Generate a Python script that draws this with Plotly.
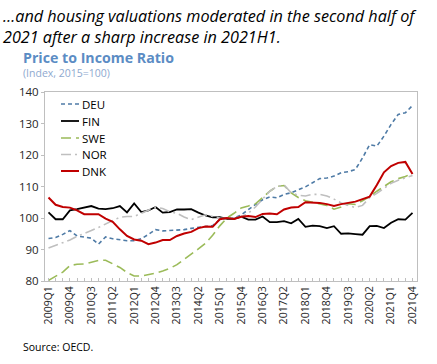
import plotly.graph_objects as go

quarters = [f"{y}Q{q}" for y in range(2009, 2022) for q in range(1, 5)]

DEU = [93.5, 93.8, 94.8, 96.0, 94.3, 94.0, 93.6, 91.7, 94.0, 93.4, 93.0, 92.8, 92.8, 93.4, 94.8, 96.3,
       95.9, 96.0, 96.1, 96.3, 96.7, 96.9, 97.3, 97.6, 99.5, 100.0, 100.0, 101.0, 102.7, 104.3, 105.8, 106.7,
       106.4, 107.5, 108.0, 109.0, 109.9, 111.2, 112.5, 112.7, 113.3, 114.4, 114.7, 115.4, 119.1, 123.3, 122.8, 126.0,
       129.7, 132.9, 133.4, 135.7]
FIN = [101.8, 99.6, 99.6, 102.4, 102.8, 103.3, 103.8, 103.0, 102.8, 103.1, 103.8, 101.8, 104.6, 101.9, 102.4, 103.5,
       101.7, 101.9, 102.7, 102.7, 102.8, 101.7, 100.8, 100.2, 100.3, 99.7, 99.7, 100.4, 99.5, 99.5, 100.5, 98.7,
       98.7, 99.0, 98.3, 99.7, 97.2, 97.6, 97.4, 96.8, 97.4, 95.0, 95.1, 94.9, 94.7, 97.4, 97.5, 96.8,
       98.5, 99.6, 99.5, 101.6]
SWE = [80.2, 81.5, 82.8, 84.9, 85.3, 85.4, 85.9, 86.5, 86.6, 85.5, 84.3, 82.7, 81.6, 81.6, 82.0, 82.5,
       83.2, 84.0, 85.2, 86.8, 88.6, 90.2, 92.0, 94.5, 97.5, 100.0, 101.5, 103.2, 103.8, 104.5, 106.5, 108.5,
       110.0, 110.3, 108.0, 106.5, 105.5, 105.0, 104.5, 104.0, 102.8, 103.5, 104.5, 104.3, 105.5, 106.8, 108.5, 110.0,
       111.5, 112.5, 113.2, 114.2]
NOR = [90.5, 91.3, 92.2, 93.0, 94.2, 95.0, 96.0, 97.0, 98.2, 99.2, 100.2, 100.5, 100.5, 101.5, 102.7, 103.5,
       103.0, 102.0, 101.5, 100.3, 99.5, 100.3, 101.0, 100.5, 100.0, 99.8, 100.0, 100.3, 101.5, 103.5, 106.0, 108.5,
       110.0, 110.5, 108.0, 107.2, 107.0, 107.5, 107.5, 107.0, 106.0, 104.8, 104.0, 103.3, 104.0, 106.5, 107.8, 109.5,
       111.0, 112.0, 112.8, 113.5]
DNK = [106.5, 104.2, 103.5, 103.3, 102.4, 101.2, 101.2, 101.2, 99.8, 98.8, 96.4, 94.3, 93.2, 92.8, 91.7, 92.2,
       93.0, 93.0, 94.3, 95.1, 95.6, 96.8, 97.3, 97.2, 99.6, 100.0, 99.7, 100.4, 100.6, 100.3, 101.3, 101.4,
       101.2, 102.7, 103.3, 103.5, 105.0, 105.0, 104.8, 104.4, 103.8, 104.4, 104.8, 105.2, 106.0, 106.8, 110.5, 114.5,
       116.5, 117.5, 117.8, 114.0]

series = [
    ("DEU", DEU, "#4F7BA6", 1.6, "4px,3px"),
    ("FIN", FIN, "#000000", 1.8, "solid"),
    ("SWE", SWE, "#9BBB59", 1.6, "10px,5px"),
    ("NOR", NOR, "#BFBFBF", 1.6, "10px,4px,2px,4px"),
    ("DNK", DNK, "#C00000", 2.0, "solid"),
]

idx = list(range(len(quarters)))
tick_idx = idx[::3]
tick_txt = quarters[::3]

W, H = 437, 364
L, R, T, B = 45, 20, 92, 83
pw, ph = W - L - R, H - T - B


def px(x):
    return (x - L) / pw


def py(y):
    return (H - B - y) / ph


fig = go.Figure()
for name, vals, col, w, dash in series:
    fig.add_trace(go.Scatter(x=idx, y=vals, name=name, mode="lines", showlegend=False,
                             hoverinfo="skip", line=dict(color=col, width=w, dash=dash)))

# legend drawn as key samples + labels (top-left inside the plot)
leg_y = [104, 121, 138, 154.5, 171]
for (name, vals, col, w, dash), ly in zip(series, leg_y):
    fig.add_shape(type="line", xref="paper", yref="paper", x0=px(61), x1=px(79), y0=py(ly), y1=py(ly),
                  line=dict(color=col, width=w, dash=dash))
    fig.add_annotation(xref="paper", yref="paper", x=px(79.5), y=py(ly), xanchor="left", yanchor="middle",
                       text=name, showarrow=False,
                       font=dict(family="Open Sans", size=11.5, color="#000000"))

fig.update_layout(
    width=W, height=H,
    margin=dict(l=L, r=R, t=T, b=B),
    paper_bgcolor="white", plot_bgcolor="white",
    showlegend=False,
    xaxis=dict(range=[-0.49, 51.63], tickvals=tick_idx, ticktext=tick_txt, tickangle=-90,
               showgrid=False, zeroline=False, showline=True, linecolor="#BFBFBF", mirror=True,
               ticks="inside", ticklen=3, tickcolor="#BFBFBF",
               minor=dict(dtick=1, tick0=0, ticks="inside", ticklen=3, tickcolor="#BFBFBF"),
               tickfont=dict(family="Open Sans", size=10.5, color="#262626")),
    yaxis=dict(range=[80, 140], dtick=10, showgrid=False, zeroline=False, showline=True,
               linecolor="#BFBFBF", mirror=True, ticks="outside", ticklen=3, tickcolor="#BFBFBF",
               tickfont=dict(family="Open Sans", size=11.5, color="#262626")),
)

fig.add_annotation(xref="paper", yref="paper", x=px(1), y=py(3), xanchor="left", yanchor="top",
                   text="<i>…and housing valuations moderated in the second half of<br>2021 after a sharp increase in 2021H1.</i>",
                   showarrow=False, align="left",
                   font=dict(family="Open Sans", size=16.2, color="#000000"))
fig.add_annotation(xref="paper", yref="paper", x=px(21), y=py(57), xanchor="left", yanchor="middle",
                   text="<b>Price to Income Ratio</b>", showarrow=False,
                   font=dict(family="Open Sans", size=14.2, color="#5B8CC4"))
fig.add_annotation(xref="paper", yref="paper", x=px(21), y=py(73), xanchor="left", yanchor="middle",
                   text="(Index, 2015=100)", showarrow=False,
                   font=dict(family="Open Sans", size=10.5, color="#8EA9CF"))
fig.add_annotation(xref="paper", yref="paper", x=px(21), y=py(347), xanchor="left", yanchor="middle",
                   text="Source: OECD.", showarrow=False,
                   font=dict(family="Open Sans", size=10.5, color="#000000"))

fig.write_html("out.html", config={"displayModeBar": False, "staticPlot": True},
               post_script="document.body.style.margin='0';document.body.style.overflow='hidden';")
